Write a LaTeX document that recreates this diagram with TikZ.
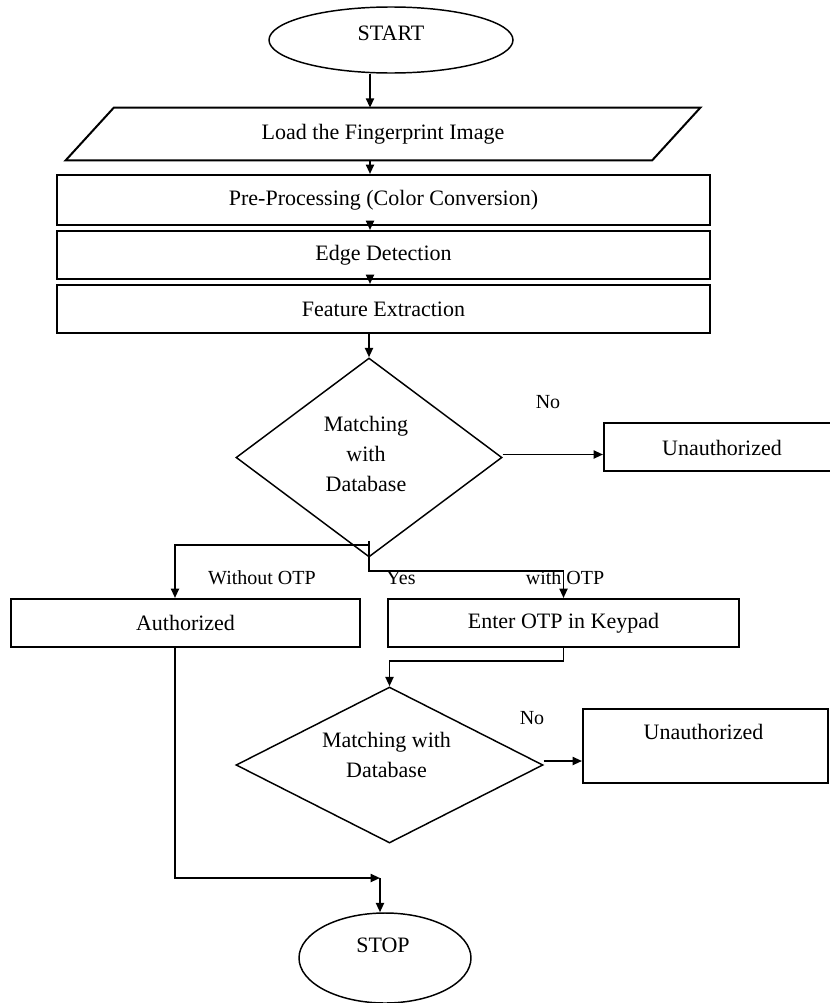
\documentclass[tikz,border=0pt]{standalone}
\usepackage{fontspec}
\setmainfont{Liberation Serif}
\usetikzlibrary{shapes.geometric,arrows.meta,calc}
\newcommand\pxu{0.75pt}
\newcommand\fbig{\fontsize{16.5}{22.5}\selectfont}
\newcommand\fsmall{\fontsize{15}{18}\selectfont}
\tikzset{
  boxnode/.style={draw, rectangle, line width=1.5pt, inner sep=0pt, font=\fbig},
  plainnode/.style={rectangle, inner sep=0pt, font=\fbig},
  ellnode/.style={draw, ellipse, line width=1.1pt, inner sep=0pt},
  decnode/.style={draw, diamond, line width=1.1pt, inner sep=0pt, font=\fbig, align=center},
  txt/.style={inner sep=0pt, font=\fbig, align=center},
  lbl/.style={inner sep=0pt, font=\fsmall},
  arr/.style={line width=1.4pt, -{Triangle[length=7pt,width=6pt]}}
}
\begin{document}
\begin{tikzpicture}[x=0.75pt,y=-0.75pt]
\useasboundingbox (0,0) rectangle (830,1003);
\clip (0,0) rectangle (830,1003);
% column coordinates
\coordinate (spine) at (370,0);
\coordinate (ax) at (175,0);
% START
\node[ellnode, minimum width=244*\pxu, minimum height=66*\pxu] (start) at (391,40) {};
\node[txt] at ($(start.center)+(0,-7)$) {START};
% input parallelogram
\node[plainnode, minimum width=634*\pxu, minimum height=52*\pxu] (load) at (383,134) {Load the Fingerprint Image};
\draw[line width=1.5pt] ($(load.north west)+(48,0)$) -- (load.north east) -- ($(load.south east)+(-48,0)$) -- (load.south west) -- cycle;
% process boxes
\node[boxnode, minimum width=653*\pxu, minimum height=50*\pxu] (pre) at (383.5,200) {Pre-Processing (Color Conversion)};
\node[boxnode, minimum width=653*\pxu, minimum height=48*\pxu] (edge) at (383.5,255) {Edge Detection};
\node[boxnode, minimum width=653*\pxu, minimum height=48*\pxu] (feat) at (383.5,309) {Feature Extraction};
% first decision
\node[decnode, minimum width=266*\pxu, minimum height=199*\pxu] (d1) at (369,457.5) {};
\node[txt] at ($(d1.center)+(-3,-4)$) {Matching\\with\\Database};
\node[boxnode, minimum width=246*\pxu, minimum height=48*\pxu] (un1) at (727,447) {};
\node[txt] at ($(un1.center)+(-5,1)$) {Unauthorized};
\node[lbl] (no1) at (548,402) {No};
% results
\node[boxnode, minimum width=349*\pxu, minimum height=48*\pxu] (auth) at (185.5,623) {Authorized};
\node[boxnode, minimum width=351*\pxu, minimum height=48*\pxu] (otp) at (563.5,623) {Enter OTP in Keypad};
\node[lbl] (lwo) at (262,578) {Without OTP};
\node[lbl] (lyes) at (401,578) {Yes};
\node[lbl] (lwith) at (565,578) {with OTP};
% second decision
\node[decnode, minimum width=307*\pxu, minimum height=156*\pxu] (d2) at (389.5,765) {};
\node[txt] at ($(d2.center)+(-3,-10)$) {Matching with\\Database};
\node[boxnode, minimum width=245*\pxu, minimum height=74*\pxu] (un2) at (705.5,746) {};
\node[txt] at ($(un2.center)+(-2,-14)$) {Unauthorized};
\node[lbl] (no2) at (532,718) {No};
% STOP
\node[ellnode, minimum width=172*\pxu, minimum height=90*\pxu] (stop) at (385,958) {};
\node[txt] at ($(stop.center)+(-2,-13)$) {STOP};
% connectors
\draw[arr] (start.south -| spine) -- (load.north -| spine);
\draw[arr] (load.south -| spine) -- (pre.north -| spine);
\draw[arr] (pre.south -| spine) -- (edge.north -| spine);
\draw[arr] (edge.south -| spine) -- (feat.north -| spine);
\draw[arr] (feat.south -| d1.north) -- (d1.north);
\coordinate (d1out) at ($(d1.east)+(0,-3)$);
\draw[arr] (d1out) -- (d1out -| un1.west);
\coordinate (jtop) at (369,541);
\coordinate (jl) at (369,545);
\coordinate (jr) at (369,571);
\draw[arr] (jtop) -- (jr) -| (otp.north);
\draw[arr] (jl) -| (auth.north -| ax);
\draw[arr] (otp.south) -- ++(0,13) -| (d2.north);
\coordinate (d2out) at ($(d2.east)+(0,-4)$);
\draw[arr] (d2out) -- (d2out -| un2.west);
\coordinate (merge) at (380,878);
\draw[arr] (auth.south -| ax) |- (merge);
\draw[arr] (merge) -- (stop.north -| merge);
\end{tikzpicture}
\end{document}
